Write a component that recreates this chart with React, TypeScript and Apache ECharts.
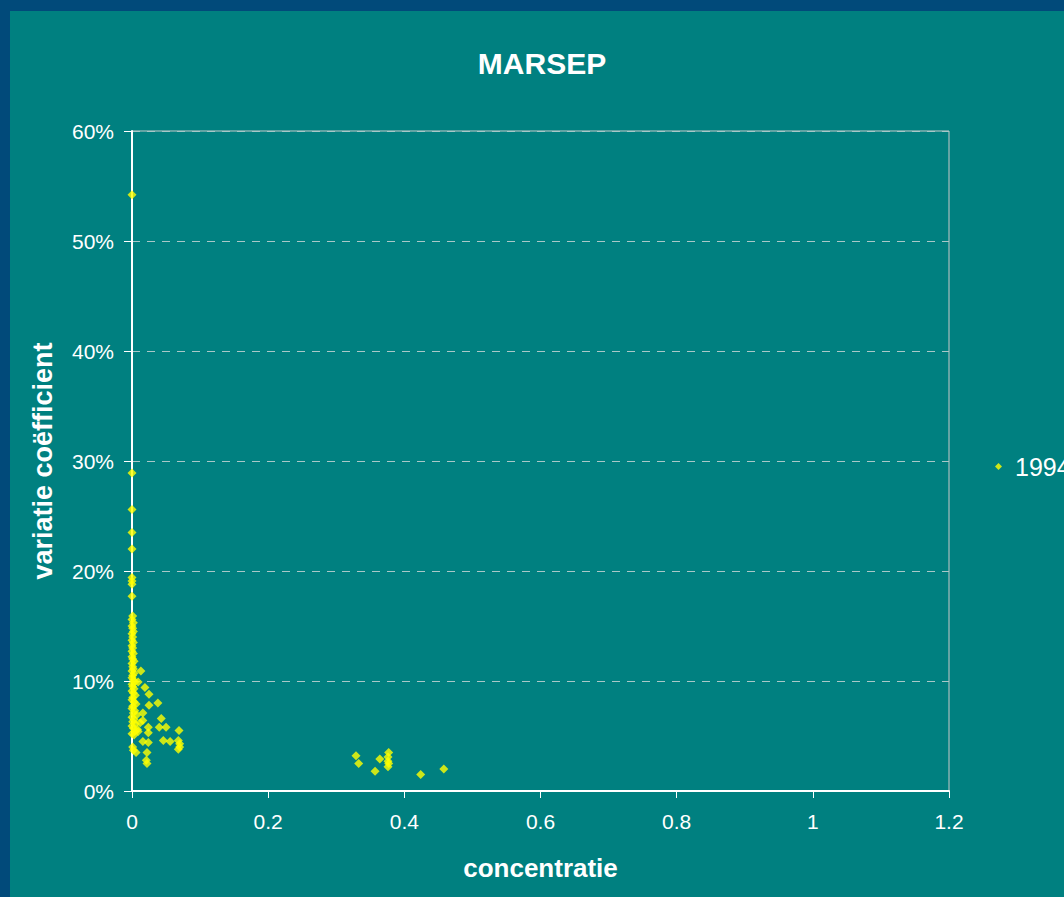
import React, { useEffect, useRef } from "react";
import * as echarts from "echarts";

const seriesName = "1994";
const xTickLabels = ["0", "0.2", "0.4", "0.6", "0.8", "1", "1.2"];

// concentration (x) and variation coefficient (y)
const concentration: number[] = [
  0, 0, 0, 0, 0, 0, 0, 0, 0,
  0.001, 0, 0.002, 0, 0.001, 0.002, 0, 0.001, 0, 0.002, 0, 0.001, 0, 0.002, 0, 0.001, 0.003, 0,
  0.001, 0.002, 0, 0.003, 0.001, 0, 0.002, 0.004, 0, 0.001, 0.003, 0, 0.002, 0.005, 0.001, 0,
  0.003, 0.006, 0.001, 0, 0.004, 0.002, 0.007, 0, 0.003, 0.001, 0.005, 0, 0.002, 0.008, 0.004,
  0, 0.003, 0.001, 0.002,
  0.013, 0.009, 0.019, 0.025, 0.038, 0.025, 0.016, 0.043, 0.040, 0.050, 0.069, 0.024, 0.012,
  0.024, 0.046, 0.056, 0.068, 0.070, 0.068, 0.016, 0.024, 0.006, 0.022, 0.021, 0.022, 0.009,
  0.016, 0.070,
  0.329, 0.333, 0.357, 0.364, 0.377, 0.376, 0.376, 0.377, 0.376, 0.424, 0.458,
];
const variationCoefficient: number[] = [
  0.542, 0.289, 0.256, 0.235, 0.220, 0.194, 0.191, 0.188, 0.177,
  0.159, 0.156, 0.153, 0.150, 0.148, 0.145, 0.143, 0.140, 0.137, 0.135, 0.132, 0.130, 0.127, 0.125,
  0.122, 0.120, 0.118, 0.116, 0.113, 0.111, 0.109, 0.107, 0.105, 0.103, 0.101, 0.099, 0.097, 0.095,
  0.093, 0.091, 0.089, 0.087, 0.085, 0.083, 0.081, 0.079, 0.077, 0.075, 0.073, 0.071, 0.069, 0.067,
  0.065, 0.063, 0.061, 0.059, 0.057, 0.056, 0.054, 0.052, 0.051, 0.040, 0.037,
  0.109, 0.099, 0.094, 0.088, 0.080, 0.078, 0.071, 0.066, 0.058, 0.058, 0.055, 0.058, 0.062,
  0.053, 0.046, 0.045, 0.046, 0.040, 0.038, 0.045, 0.044, 0.035, 0.035, 0.028, 0.025, 0.054,
  0.064, 0.043,
  0.032, 0.025, 0.018, 0.029, 0.035, 0.031, 0.027, 0.025, 0.022, 0.015, 0.020,
];

const FONT = "'Liberation Sans', Arial, sans-serif";

export default function App() {
  const ref = useRef<HTMLDivElement>(null);
  useEffect(() => {
    if (!ref.current) return;
    const chart = echarts.init(ref.current, undefined, { renderer: "svg" });
    const data = concentration.map((x, i) => [x, variationCoefficient[i]]);
    chart.setOption({
      animation: false,
      backgroundColor: "#014A7A",
      graphic: [
        {
          type: "rect",
          z: -10,
          silent: true,
          shape: { x: 10, y: 11, width: 1064, height: 897 },
          style: { fill: "#008080" },
        },
      ],
      title: {
        text: "MARSEP",
        left: 537,
        top: 43,
        textAlign: "center",
        textStyle: { color: "#ffffff", fontSize: 30, fontWeight: "bold", fontFamily: FONT },
      },
      legend: {
        left: 990,
        top: 449,
        itemWidth: 7,
        itemHeight: 7,
        data: [{ name: seriesName, icon: "diamond" }],
        textStyle: { color: "#ffffff", fontSize: 25, fontFamily: FONT, padding: [0, 0, 0, 8] },
      },
      grid: {
        left: 132,
        top: 131,
        right: 115,
        bottom: 106,
        show: true,
        borderColor: "#C8C8C8",
        borderWidth: 1,
        backgroundColor: "transparent",
      },
      xAxis: {
        type: "value",
        min: 0,
        max: 1.2,
        interval: 0.2,
        name: "concentratie",
        nameLocation: "middle",
        nameGap: 64,
        nameTextStyle: { color: "#ffffff", fontSize: 26, fontWeight: "bold", fontFamily: FONT },
        axisLine: { show: true, lineStyle: { color: "#ffffff", width: 2 } },
        axisTick: { show: true, length: 7, lineStyle: { color: "#ffffff" } },
        axisLabel: {
          color: "#ffffff",
          fontSize: 21,
          fontFamily: FONT,
          margin: 20,
          formatter: (v: number) => xTickLabels[Math.round(v / 0.2)] ?? String(v),
        },
        splitLine: { show: false },
      },
      yAxis: {
        type: "value",
        min: 0,
        max: 0.6,
        interval: 0.1,
        name: "variatie coëfficient",
        nameLocation: "middle",
        nameGap: 76,
        nameTextStyle: { color: "#ffffff", fontSize: 27, fontWeight: "bold", fontFamily: FONT },
        axisLine: { show: true, lineStyle: { color: "#ffffff", width: 2 } },
        axisTick: { show: true, length: 8, lineStyle: { color: "#ffffff" } },
        axisLabel: {
          color: "#ffffff",
          fontSize: 21,
          fontFamily: FONT,
          margin: 18,
          formatter: (v: number) => Math.round(v * 100) + "%",
        },
        splitLine: {
          show: true,
          lineStyle: { color: "#A8C8C8", type: [8, 7], width: 1 },
        },
      },
      series: [
        {
          name: seriesName,
          type: "scatter",
          symbol: "diamond",
          symbolSize: 9,
          itemStyle: { color: "#FFFF00" },
          data,
        },
      ],
    });
    return () => chart.dispose();
  }, []);
  return (
    <div
      ref={ref}
      style={{ position: "fixed", left: 0, top: 0, width: 1064, height: 897 }}
    />
  );
}
